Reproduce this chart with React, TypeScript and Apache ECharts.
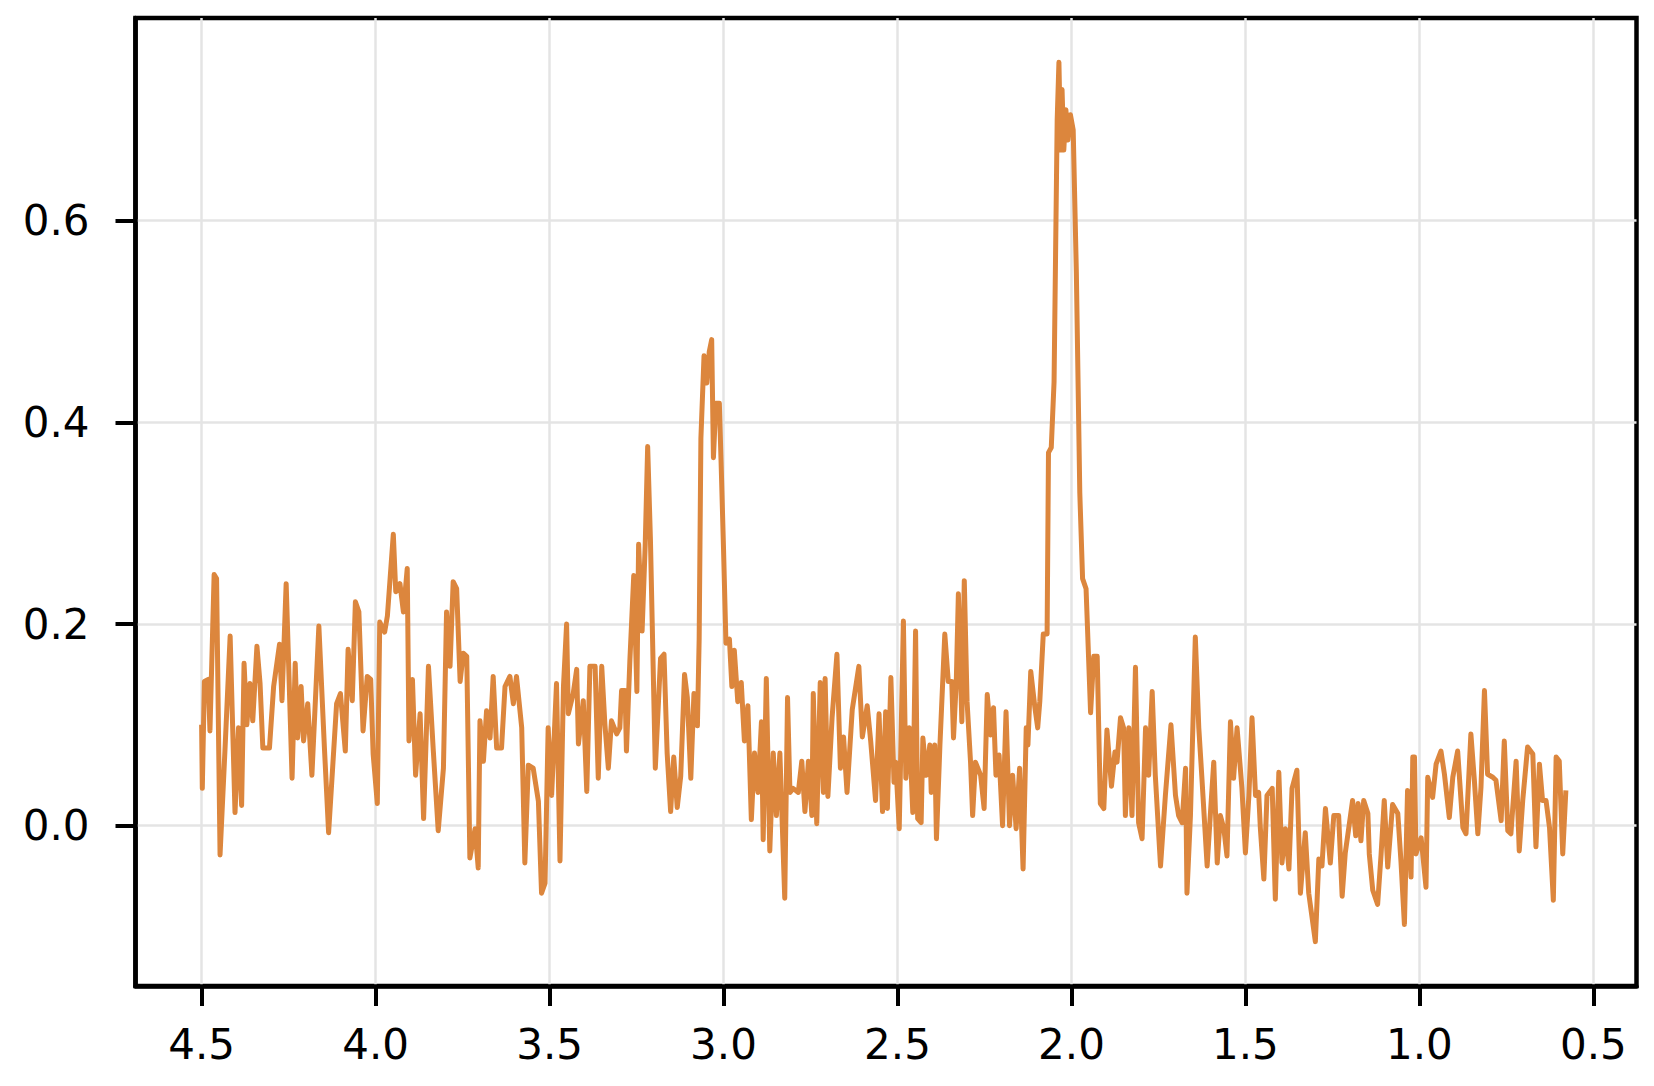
import React, { useEffect, useRef } from "react";
import * as echarts from "echarts";

// Tick values (ppm-like shift on x, intensity on y)
const xTickValues = [4.5, 4.0, 3.5, 3.0, 2.5, 2.0, 1.5, 1.0, 0.5];
const yTickValues = [0.0, 0.2, 0.4, 0.6];

// Spectrum, left (4.5) to right (~0.58), [x, y]
const seg450to386: [number, number][] = [
  [4.500, 0.100], [4.498, 0.037], [4.492, 0.143], [4.481, 0.145], [4.476, 0.094], [4.464, 0.249],
  [4.457, 0.245], [4.447, -0.029], [4.433, 0.074], [4.418, 0.188], [4.404, 0.013], [4.394, 0.097],
  [4.385, 0.020], [4.378, 0.161], [4.370, 0.100], [4.361, 0.141], [4.353, 0.104], [4.341, 0.178],
  [4.332, 0.141], [4.324, 0.077], [4.305, 0.077], [4.293, 0.138], [4.276, 0.180], [4.269, 0.124],
  [4.257, 0.240], [4.250, 0.161], [4.240, 0.047], [4.231, 0.161], [4.224, 0.087], [4.214, 0.138],
  [4.207, 0.084], [4.195, 0.121], [4.183, 0.050], [4.163, 0.198], [4.147, 0.077], [4.135, -0.007],
  [4.112, 0.121], [4.101, 0.131], [4.087, 0.074], [4.079, 0.175], [4.067, 0.124], [4.058, 0.222],
  [4.048, 0.212], [4.036, 0.094], [4.024, 0.148], [4.014, 0.145], [4.007, 0.071], [3.995, 0.022],
  [3.988, 0.202], [3.974, 0.192], [3.966, 0.208], [3.949, 0.289], [3.942, 0.232], [3.930, 0.240],
  [3.920, 0.212], [3.909, 0.255], [3.904, 0.084], [3.894, 0.145], [3.885, 0.050], [3.872, 0.111],
  [3.862, 0.007],
];

const seg385to327: [number, number][] = [
  [3.848, 0.158], [3.834, 0.074], [3.820, -0.005], [3.805, 0.057], [3.796, 0.212], [3.786, 0.158],
  [3.777, 0.242], [3.767, 0.235], [3.757, 0.143], [3.748, 0.171], [3.738, 0.168], [3.729, -0.032],
  [3.714, -0.003], [3.705, -0.042], [3.700, 0.104], [3.690, 0.064], [3.681, 0.114], [3.671, 0.087],
  [3.662, 0.148], [3.652, 0.077], [3.638, 0.077], [3.628, 0.138], [3.614, 0.148], [3.604, 0.121],
  [3.595, 0.148], [3.580, 0.097], [3.571, -0.037], [3.561, 0.060], [3.547, 0.057], [3.532, 0.024],
  [3.523, -0.067], [3.513, -0.057], [3.504, 0.097], [3.494, 0.030], [3.480, 0.141], [3.470, -0.035],
  [3.460, 0.138], [3.451, 0.200], [3.446, 0.111], [3.432, 0.131], [3.422, 0.155], [3.417, 0.081],
  [3.403, 0.124], [3.393, 0.034], [3.384, 0.158], [3.369, 0.158], [3.360, 0.047], [3.350, 0.158],
  [3.341, 0.101], [3.331, 0.057], [3.322, 0.104], [3.307, 0.091], [3.298, 0.097], [3.293, 0.134],
  [3.283, 0.134], [3.279, 0.074], [3.269, 0.165],
];

const seg326to254: [number, number][] = [
  [3.258, 0.248], [3.249, 0.133], [3.244, 0.279], [3.234, 0.193], [3.225, 0.279], [3.218, 0.376],
  [3.210, 0.283], [3.196, 0.057], [3.181, 0.166], [3.171, 0.170], [3.162, 0.072], [3.152, 0.014],
  [3.143, 0.068], [3.133, 0.018], [3.123, 0.049], [3.112, 0.150], [3.104, 0.127], [3.094, 0.047],
  [3.085, 0.131], [3.075, 0.099], [3.070, 0.185], [3.065, 0.384], [3.056, 0.466], [3.048, 0.439],
  [3.041, 0.470], [3.034, 0.482], [3.029, 0.365], [3.022, 0.419], [3.012, 0.419], [3.007, 0.361],
  [3.000, 0.275], [2.993, 0.181], [2.983, 0.185], [2.976, 0.138], [2.969, 0.174], [2.959, 0.123],
  [2.949, 0.142], [2.940, 0.084], [2.930, 0.119], [2.920, 0.006], [2.911, 0.072], [2.901, 0.033],
  [2.891, 0.103], [2.886, -0.014], [2.877, 0.146], [2.867, -0.025], [2.857, 0.072], [2.848, 0.010],
  [2.838, 0.072], [2.824, -0.072], [2.816, 0.127], [2.809, 0.033], [2.800, 0.037], [2.785, 0.033],
  [2.775, 0.064], [2.766, 0.014], [2.756, 0.064], [2.746, 0.010], [2.742, 0.131], [2.732, 0.002],
  [2.722, 0.142], [2.713, 0.033], [2.708, 0.146], [2.700, 0.029], [2.688, 0.107], [2.674, 0.170],
  [2.664, 0.057], [2.655, 0.088], [2.645, 0.033], [2.630, 0.115], [2.611, 0.158], [2.601, 0.088],
  [2.587, 0.119], [2.577, 0.084], [2.563, 0.025], [2.553, 0.111], [2.543, 0.014],
];

const seg253to207: [number, number][] = [
  [2.534, 0.113], [2.529, 0.017], [2.519, 0.147], [2.510, 0.043], [2.505, 0.063], [2.495, -0.003],
  [2.483, 0.203], [2.476, 0.047], [2.466, 0.097], [2.456, 0.013], [2.448, 0.193], [2.442, 0.007],
  [2.432, 0.003], [2.427, 0.087], [2.417, 0.050], [2.407, 0.080], [2.403, 0.033], [2.393, 0.080],
  [2.388, -0.013], [2.378, 0.080], [2.364, 0.190], [2.354, 0.143], [2.344, 0.143], [2.339, 0.087],
  [2.331, 0.143], [2.325, 0.230], [2.315, 0.103], [2.308, 0.243], [2.300, 0.123], [2.290, 0.063],
  [2.284, 0.010], [2.276, 0.063], [2.261, 0.050], [2.251, 0.017], [2.242, 0.130], [2.232, 0.090],
  [2.224, 0.117], [2.217, 0.050], [2.208, 0.070], [2.198, 0.000], [2.188, 0.113], [2.178, 0.000],
  [2.169, 0.050], [2.159, -0.003], [2.149, 0.057], [2.139, -0.043], [2.130, 0.097], [2.125, 0.080],
  [2.117, 0.153], [2.105, 0.117], [2.097, 0.097], [2.091, 0.123], [2.081, 0.190], [2.070, 0.190],
];

const segMainPeak: [number, number][] = [
  [2.066, 0.370], [2.058, 0.375], [2.050, 0.440], [2.041, 0.700], [2.036, 0.757], [2.031, 0.670],
  [2.027, 0.730], [2.022, 0.670], [2.016, 0.710], [2.010, 0.680], [2.003, 0.705], [1.995, 0.690],
  [1.986, 0.550], [1.976, 0.330], [1.968, 0.245], [1.958, 0.235], [1.945, 0.112], [1.936, 0.168],
  [1.926, 0.168], [1.917, 0.022], [1.907, 0.017], [1.898, 0.095], [1.885, 0.039], [1.875, 0.073],
];

const seg187to120: [number, number][] = [
  [1.869, 0.063], [1.859, 0.107], [1.850, 0.097], [1.845, 0.010], [1.835, 0.097], [1.826, 0.010],
  [1.816, 0.157], [1.807, 0.003], [1.797, -0.013], [1.787, 0.097], [1.778, 0.050], [1.768, 0.133],
  [1.759, 0.050], [1.744, -0.040], [1.730, 0.030], [1.714, 0.100], [1.701, 0.030], [1.692, 0.010],
  [1.682, 0.003], [1.672, 0.057], [1.668, -0.067], [1.658, 0.010], [1.644, 0.187], [1.634, 0.097],
  [1.625, 0.047], [1.610, -0.040], [1.601, 0.010], [1.591, 0.063], [1.581, -0.037], [1.572, 0.010],
  [1.562, -0.003], [1.553, -0.030], [1.543, 0.103], [1.534, 0.047], [1.524, 0.097], [1.510, 0.037],
  [1.500, -0.027], [1.490, 0.030], [1.481, 0.107], [1.471, 0.030], [1.462, 0.033], [1.457, -0.003],
  [1.447, -0.053], [1.438, 0.030], [1.423, 0.037], [1.414, -0.073], [1.404, 0.053], [1.395, -0.037],
  [1.385, -0.003], [1.375, -0.043], [1.366, 0.037], [1.352, 0.055], [1.342, -0.067], [1.328, -0.007],
  [1.318, -0.067], [1.299, -0.115], [1.289, -0.033], [1.280, -0.040], [1.270, 0.017], [1.256, -0.037],
  [1.246, 0.010], [1.232, 0.010], [1.222, -0.070], [1.213, -0.027], [1.198, 0.010],
];

const seg119to058: [number, number][] = [
  [1.192, 0.025], [1.183, -0.010], [1.176, 0.022], [1.168, -0.015], [1.160, 0.025], [1.148, 0.012],
  [1.144, -0.028], [1.134, -0.064],
  [1.120, -0.078], [1.110, -0.028], [1.101, 0.025], [1.091, -0.041], [1.077, 0.021], [1.062, 0.012],
  [1.053, -0.035], [1.043, -0.098], [1.034, 0.035], [1.024, -0.051], [1.019, 0.068], [1.014, 0.068],
  [1.010, -0.028], [0.995, -0.012], [0.981, -0.061], [0.976, 0.048], [0.962, 0.028], [0.952, 0.061],
  [0.938, 0.074], [0.928, 0.051], [0.914, 0.008], [0.904, 0.048], [0.890, 0.074], [0.875, -0.002],
  [0.866, -0.008], [0.852, 0.091], [0.842, 0.045], [0.832, -0.008], [0.823, 0.038], [0.813, 0.134],
  [0.804, 0.051], [0.789, 0.048], [0.780, 0.045], [0.765, 0.005], [0.756, 0.084], [0.746, -0.005],
  [0.737, -0.008], [0.722, 0.064], [0.713, -0.025], [0.703, 0.025], [0.689, 0.078], [0.674, 0.071],
  [0.665, -0.021], [0.655, 0.061], [0.646, 0.025], [0.636, 0.025], [0.626, -0.002], [0.615, -0.074],
  [0.607, 0.068], [0.598, 0.064], [0.588, -0.028], [0.579, 0.035],
];

const spectrum: [number, number][] = [
  ...seg450to386,
  ...seg385to327,
  ...seg326to254,
  ...seg253to207,
  ...segMainPeak,
  ...seg187to120,
  ...seg119to058,
];

const LINE_COLOR = "#DC863D";
const FONT = "DejaVu Sans";

export default function App() {
  const ref = useRef<HTMLDivElement>(null);

  useEffect(() => {
    if (!ref.current) return;
    const chart = echarts.init(ref.current, null, { renderer: "svg" });
    chart.setOption({
      animation: false,
      backgroundColor: "#ffffff",
      grid: {
        left: 135.5,
        top: 18,
        width: 1501,
        height: 968,
        containLabel: false,
        outerBoundsMode: "none",
        show: true,
        borderColor: "#000000",
        borderWidth: 4.5,
        backgroundColor: "transparent",
      },
      xAxis: {
        type: "value",
        inverse: true,
        min: 0.376,
        max: 4.69,
        minInterval: 0.5,
        maxInterval: 0.5,
        axisLine: { show: true, onZero: false, lineStyle: { color: "#000", width: 4.5 } },
        axisTick: {
          show: true,
          inside: false,
          length: 20,
          customValues: xTickValues,
          lineStyle: { color: "#000", width: 4 },
        },
        axisLabel: {
          show: true,
          customValues: xTickValues,
          formatter: (v: number) => v.toFixed(1),
          fontSize: 42,
          fontFamily: FONT,
          color: "#000",
          margin: 37,
        },
        splitLine: { show: true, lineStyle: { color: "#e4e4e4", width: 2.5 } },
      },
      yAxis: {
        type: "value",
        min: -0.159,
        max: 0.801,
        minInterval: 0.2,
        maxInterval: 0.2,
        axisLine: { show: true, onZero: false, lineStyle: { color: "#000", width: 4.5 } },
        axisTick: {
          show: true,
          inside: false,
          length: 20,
          customValues: yTickValues,
          lineStyle: { color: "#000", width: 4 },
        },
        axisLabel: {
          show: true,
          customValues: yTickValues,
          formatter: (v: number) => v.toFixed(1),
          fontSize: 42,
          fontFamily: FONT,
          color: "#000",
          margin: 46,
        },
        splitLine: { show: true, lineStyle: { color: "#e4e4e4", width: 2.5 } },
      },
      series: [
        {
          type: "line",
          data: spectrum,
          showSymbol: false,
          symbol: "none",
          clip: true,
          lineStyle: { color: LINE_COLOR, width: 5, join: "round", cap: "butt" },
          emphasis: { disabled: true },
        },
      ],
    });
    return () => chart.dispose();
  }, []);

  return (
    <div
      ref={ref}
      style={{ position: "fixed", left: 0, top: 0, width: 1654, height: 1086, background: "#fff" }}
    />
  );
}
